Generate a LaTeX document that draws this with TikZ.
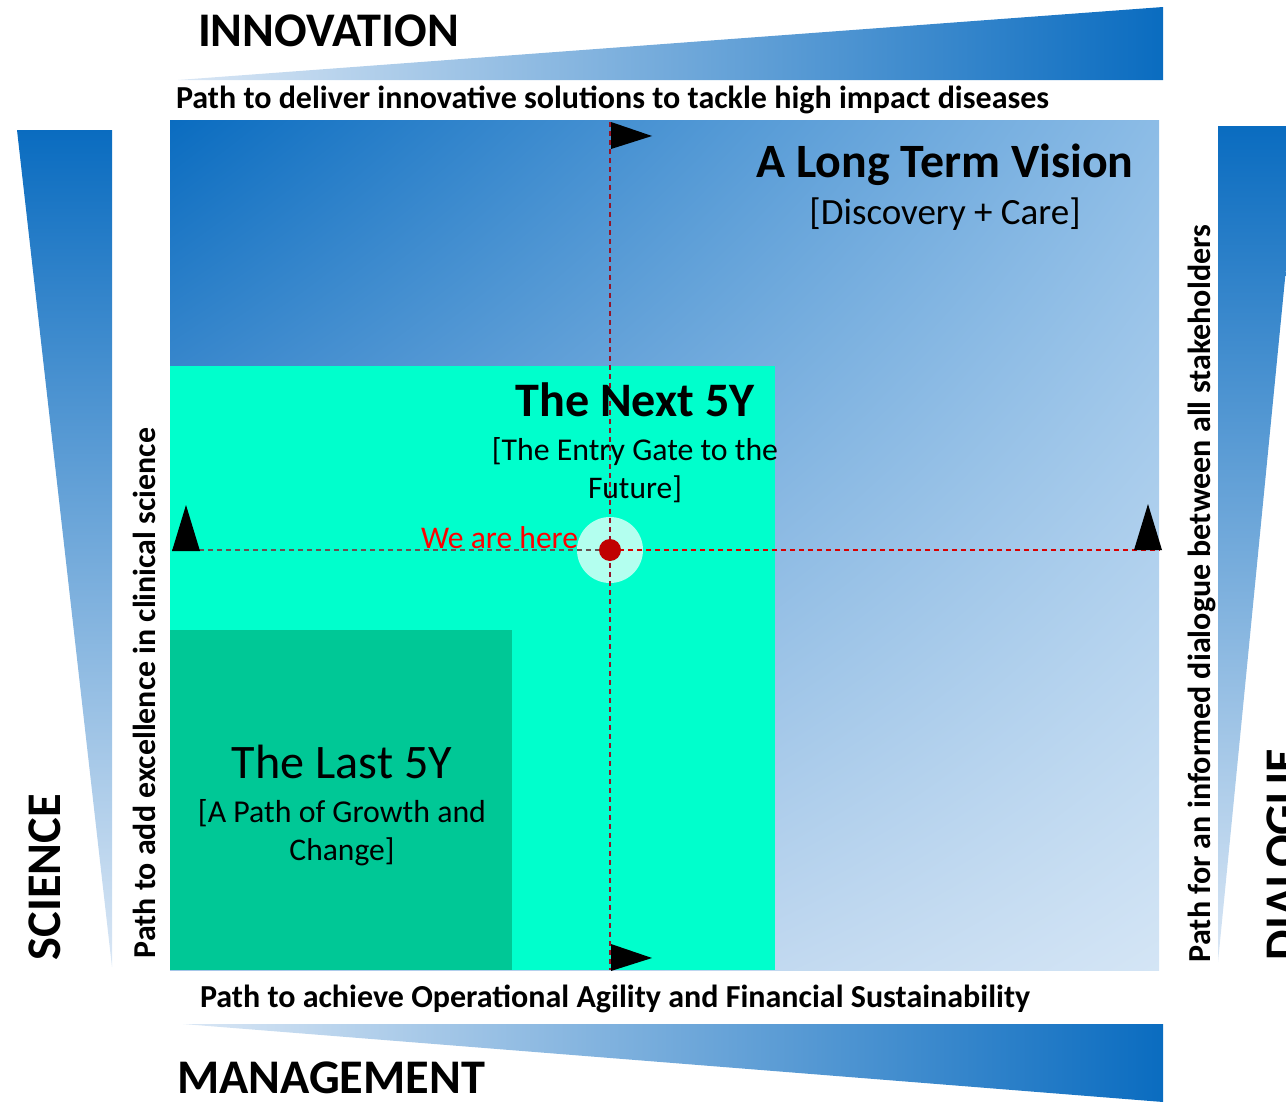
\documentclass[tikz,border=0pt]{standalone}
\usepackage{fontspec}
\setmainfont{Carlito}
\usepackage{graphicx}
\usetikzlibrary{shadings}
\newlength\pxu \setlength\pxu{0.02cm}
\newcommand\fitw[2]{\resizebox{#1\pxu}{!}{#2}}
\definecolor{dkblue}{RGB}{10,108,192}
\definecolor{ltblue}{RGB}{218,231,245}
\definecolor{urblue}{RGB}{140,188,230}
\definecolor{llblue}{RGB}{165,198,232}
\definecolor{lrblue}{RGB}{212,229,245}
\definecolor{aqua}{RGB}{0,255,204}
\definecolor{sea}{RGB}{0,200,150}
\definecolor{dotred}{RGB}{192,0,0}
\definecolor{dashred}{RGB}{150,20,40}
\definecolor{dashgray}{RGB}{105,80,80}
\definecolor{herered}{RGB}{255,0,0}
\tikzset{
  flag/.style={fill=black,draw=none},
  lbl/.style={inner sep=0pt,outer sep=0pt},
  bigword/.style={lbl,font=\fontsize{27.5}{31}\selectfont\bfseries},
  dashln/.style={line width=0.85pt,dash pattern=on 0.1cm off 0.08cm}
}
\begin{document}
\begin{tikzpicture}[x=0.02cm,y=-0.02cm]
\clip (0,0) rectangle (1286,1102);
% side wedges
\path[left color=ltblue,right color=dkblue] (178,80) -- (1163,7) -- (1163,80) -- cycle;
\path[left color=ltblue,right color=dkblue] (183,1024) -- (1163,1024) -- (1163,1102) -- cycle;
\path[top color=dkblue,bottom color=ltblue] (17,130) -- (112,130) -- (112,967) -- cycle;
\path[top color=dkblue,bottom color=ltblue] (1218,126) -- (1300,126) -- (1218,962) -- cycle;
% main panels
\shade[upper left=dkblue,upper right=urblue,lower left=llblue,lower right=lrblue] (170,120) rectangle (1159,970);
\fill[aqua] (170,366) rectangle (775,970);
\fill[sea] (170,630) rectangle (512,970);
% axes
\coordinate (vt) at (610,122);
\coordinate (vb) at (610,970);
\coordinate (hl) at (172,550);
\coordinate (hc) at (610,550);
\coordinate (hr) at (1160,550);
\fill[white,opacity=0.7] (hc) circle (33);
\draw[dashln,dashred] (vt) -- (vb);
\draw[dashln,dashgray] (hl) -- (hc);
\draw[dashln,red!85!black] (hc) -- (hr);
\fill[dotred] (hc) circle (11);
% flags
\fill[flag] (611,122) -- (652,136) -- (611,149) -- cycle;
\fill[flag] (611,944) -- (652,958) -- (611,971) -- cycle;
\fill[flag] (172,551) -- (186,505) -- (200,551) -- cycle;
\fill[flag] (1134,550) -- (1148,504) -- (1162,550) -- cycle;
% words
\node[bigword,anchor=base west] (innov) at (198,47) {INNOVATION};
\node[bigword,anchor=base west] (mgmt) at (177,1093) {MANAGEMENT};
\node[bigword,anchor=base west,rotate=90] (sci) at (60,960) {SCIENCE};
\node[bigword,anchor=base west,rotate=90] (dial) at (1298,960) {DIALOGUE};
% path texts
\node[lbl,anchor=base west] (ptop) at (176,108) {\fitw{873}{\bfseries Path to deliver innovative solutions to tackle high impact diseases}};
\node[lbl,anchor=base west] (pbot) at (200,1007) {\fitw{830}{\bfseries Path to achieve Operational Agility and Financial Sustainability}};
\node[lbl,anchor=base west,rotate=90] (pleft) at (155,958) {\fitw{530}{\bfseries Path to add excellence in clinical science}};
\node[lbl,anchor=base west,rotate=90] (pright) at (1210,962) {\fitw{737}{\bfseries Path for an informed dialogue between all stakeholders}};
% panel titles
\node[lbl,anchor=base] (ltv) at (945,177) {\fitw{377}{\bfseries A Long Term Vision}};
\node[lbl,anchor=base] (ltvs) at (945,224) {\fitw{271}{[Discovery + Care]}};
\node[lbl,anchor=base] (n5) at (635,416) {\fitw{239}{\bfseries The Next 5Y}};
\node[lbl,anchor=base] (n5a) at (635,460) {\fitw{286}{[The Entry Gate to the}};
\node[lbl,anchor=base] (n5b) at (635,498) {\fitw{94}{Future]}};
\node[lbl,anchor=base] (l5) at (342,778) {\fitw{220}{The Last 5Y}};
\node[lbl,anchor=base] (l5a) at (342,822) {\fitw{288}{[A Path of Growth and}};
\node[lbl,anchor=base] (l5b) at (342,860) {\fitw{105}{Change]}};
\node[lbl,anchor=base west,text=herered] (here) at (421,548) {\fitw{157}{We are here}};
\end{tikzpicture}
\end{document}
